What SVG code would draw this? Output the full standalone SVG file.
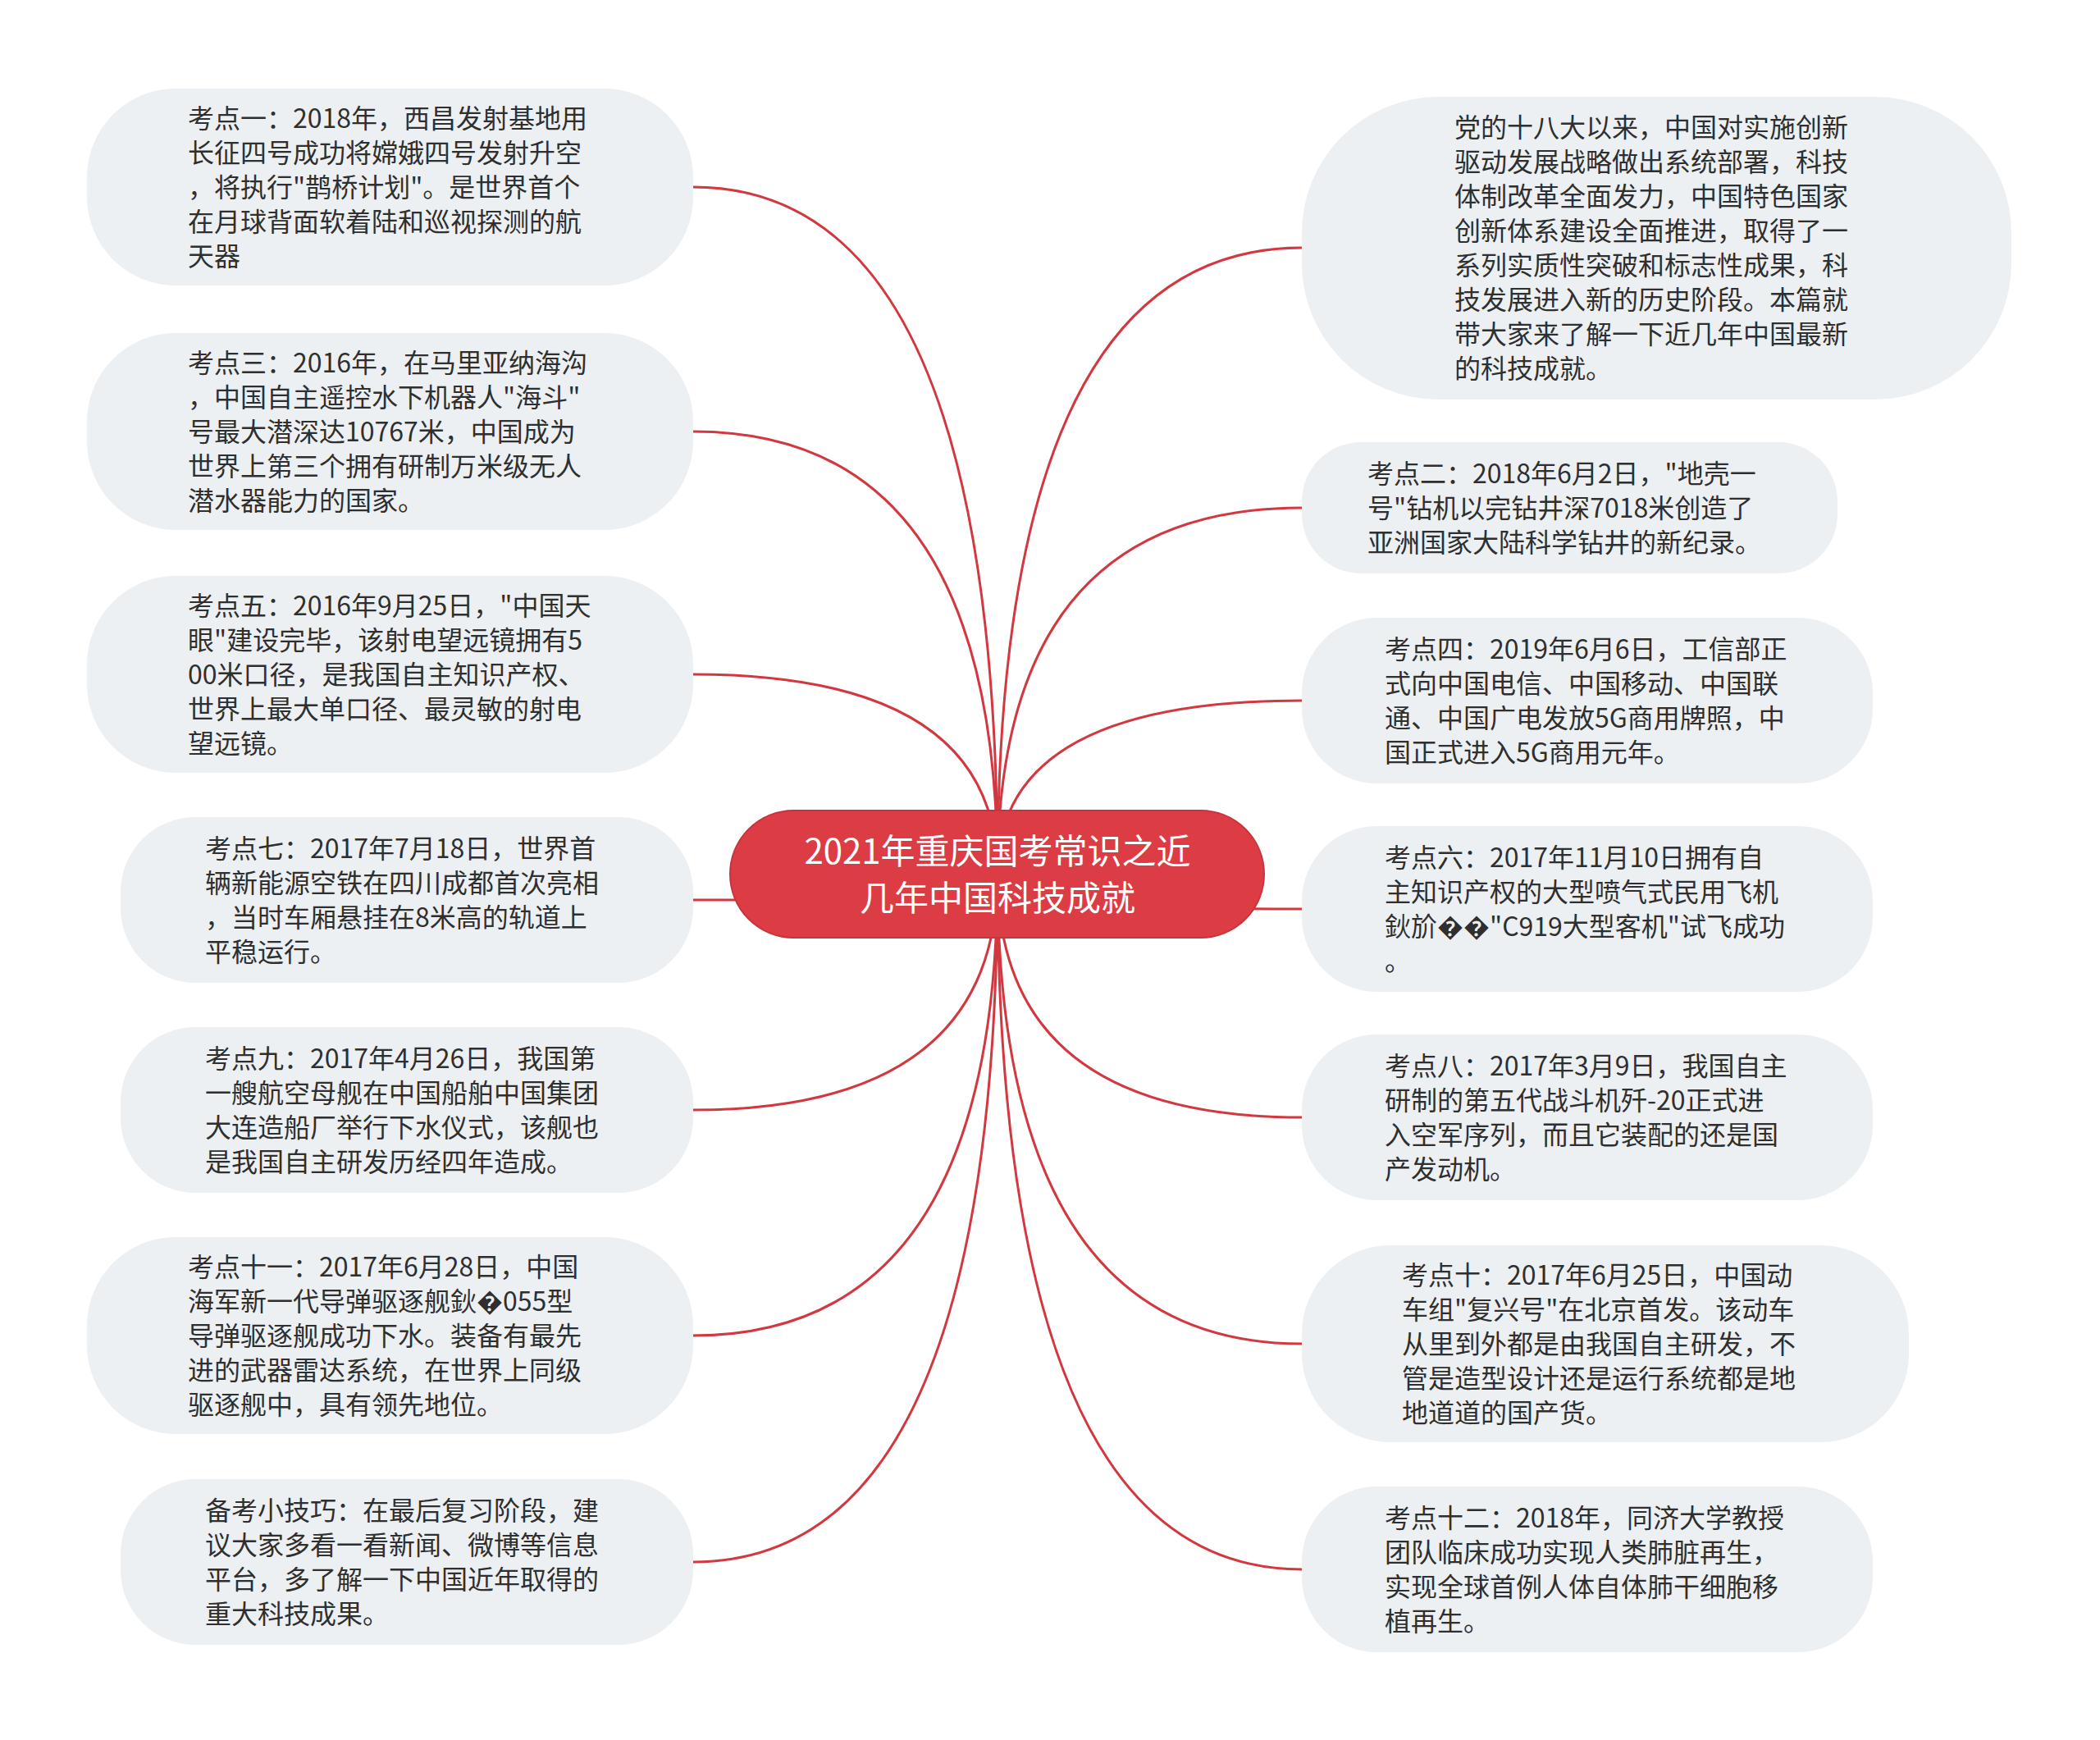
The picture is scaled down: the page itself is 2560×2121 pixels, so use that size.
<svg xmlns="http://www.w3.org/2000/svg" width="2560" height="2121" viewBox="0 0 2560 2121">
<style>
.bg{fill:#ffffff}
.node{fill:#edf0f3}
.t{font-family:"Noto Sans CJK SC","Noto Sans",sans-serif;font-size:32px;fill:#2f2f2f}
.root{fill:#dc3d45;stroke:#c9333b;stroke-width:2}
.rt{font-family:"Noto Sans CJK SC","Noto Sans",sans-serif;font-size:42px;fill:#ffffff;text-anchor:middle}
.c{fill:none;stroke:#d2383f;stroke-width:3}
</style>
<rect class="bg" x="0" y="0" width="2560" height="2121"/>
<g id="connectors">
<path class="c" d="M1216 1065 Q1216 228 845 228"/>
<path class="c" d="M1216 1065 Q1216 526 845 526"/>
<path class="c" d="M1216 1065 Q1216 822 845 822"/>
<path class="c" d="M1216 1065 Q1216 1097 845 1097"/>
<path class="c" d="M1216 1065 Q1216 1353 845 1353"/>
<path class="c" d="M1216 1065 Q1216 1628 845 1628"/>
<path class="c" d="M1216 1065 Q1216 1904 845 1904"/>
<path class="c" d="M1216 1065 Q1216 302 1587 302"/>
<path class="c" d="M1216 1065 Q1216 619 1587 619"/>
<path class="c" d="M1216 1065 Q1216 854 1587 854"/>
<path class="c" d="M1216 1065 Q1216 1108 1587 1108"/>
<path class="c" d="M1216 1065 Q1216 1362 1587 1362"/>
<path class="c" d="M1216 1065 Q1216 1638 1587 1638"/>
<path class="c" d="M1216 1065 Q1216 1913 1587 1913"/>
</g>
<g id="root">
<rect class="root" x="890" y="988" width="651" height="155" rx="77.5"/>
<text class="rt"><tspan x="1216" y="1053">2021年重庆国考常识之近</tspan><tspan x="1216" y="1110">几年中国科技成就</tspan></text>
</g>
<g id="n-l1">
<rect class="node" x="106" y="108" width="739" height="240" rx="108"/>
<text class="t"><tspan x="229" y="156">考点一：2018年，西昌发射基地用</tspan><tspan x="229" y="198">长征四号成功将嫦娥四号发射升空</tspan><tspan x="229" y="240">，将执行"鹊桥计划"。是世界首个</tspan><tspan x="229" y="282">在月球背面软着陆和巡视探测的航</tspan><tspan x="229" y="324">天器</tspan></text>
</g>
<g id="n-l3">
<rect class="node" x="106" y="406" width="739" height="240" rx="108"/>
<text class="t"><tspan x="229" y="454">考点三：2016年，在马里亚纳海沟</tspan><tspan x="229" y="496">，中国自主遥控水下机器人"海斗"</tspan><tspan x="229" y="538">号最大潜深达10767米，中国成为</tspan><tspan x="229" y="580">世界上第三个拥有研制万米级无人</tspan><tspan x="229" y="622">潜水器能力的国家。</tspan></text>
</g>
<g id="n-l5">
<rect class="node" x="106" y="702" width="739" height="240" rx="108"/>
<text class="t"><tspan x="229" y="750">考点五：2016年9月25日，"中国天</tspan><tspan x="229" y="792">眼"建设完毕，该射电望远镜拥有5</tspan><tspan x="229" y="834">00米口径，是我国自主知识产权、</tspan><tspan x="229" y="876">世界上最大单口径、最灵敏的射电</tspan><tspan x="229" y="918">望远镜。</tspan></text>
</g>
<g id="n-l7">
<rect class="node" x="147" y="996" width="698" height="202" rx="91"/>
<text class="t"><tspan x="250" y="1046">考点七：2017年7月18日，世界首</tspan><tspan x="250" y="1088">辆新能源空铁在四川成都首次亮相</tspan><tspan x="250" y="1130">，当时车厢悬挂在8米高的轨道上</tspan><tspan x="250" y="1172">平稳运行。</tspan></text>
</g>
<g id="n-l9">
<rect class="node" x="147" y="1252" width="698" height="202" rx="91"/>
<text class="t"><tspan x="250" y="1302">考点九：2017年4月26日，我国第</tspan><tspan x="250" y="1344">一艘航空母舰在中国船舶中国集团</tspan><tspan x="250" y="1386">大连造船厂举行下水仪式，该舰也</tspan><tspan x="250" y="1428">是我国自主研发历经四年造成。</tspan></text>
</g>
<g id="n-l11">
<rect class="node" x="106" y="1508" width="739" height="240" rx="108"/>
<text class="t"><tspan x="229" y="1556">考点十一：2017年6月28日，中国</tspan><tspan x="229" y="1598">海军新一代导弹驱逐舰鈥�055型</tspan><tspan x="229" y="1640">导弹驱逐舰成功下水。装备有最先</tspan><tspan x="229" y="1682">进的武器雷达系统，在世界上同级</tspan><tspan x="229" y="1724">驱逐舰中，具有领先地位。</tspan></text>
</g>
<g id="n-tip">
<rect class="node" x="147" y="1803" width="698" height="202" rx="91"/>
<text class="t"><tspan x="250" y="1853">备考小技巧：在最后复习阶段，建</tspan><tspan x="250" y="1895">议大家多看一看新闻、微博等信息</tspan><tspan x="250" y="1937">平台，多了解一下中国近年取得的</tspan><tspan x="250" y="1979">重大科技成果。</tspan></text>
</g>
<g id="n-r0">
<rect class="node" x="1587" y="118" width="865" height="369" rx="166"/>
<text class="t"><tspan x="1773" y="167">党的十八大以来，中国对实施创新</tspan><tspan x="1773" y="209">驱动发展战略做出系统部署，科技</tspan><tspan x="1773" y="251">体制改革全面发力，中国特色国家</tspan><tspan x="1773" y="293">创新体系建设全面推进，取得了一</tspan><tspan x="1773" y="335">系列实质性突破和标志性成果，科</tspan><tspan x="1773" y="377">技发展进入新的历史阶段。本篇就</tspan><tspan x="1773" y="419">带大家来了解一下近几年中国最新</tspan><tspan x="1773" y="461">的科技成就。</tspan></text>
</g>
<g id="n-r2">
<rect class="node" x="1587" y="539" width="653" height="160" rx="72"/>
<text class="t"><tspan x="1667" y="589">考点二：2018年6月2日，"地壳一</tspan><tspan x="1667" y="631">号"钻机以完钻井深7018米创造了</tspan><tspan x="1667" y="673">亚洲国家大陆科学钻井的新纪录。</tspan></text>
</g>
<g id="n-r4">
<rect class="node" x="1587" y="753" width="696" height="202" rx="91"/>
<text class="t"><tspan x="1688" y="803">考点四：2019年6月6日，工信部正</tspan><tspan x="1688" y="845">式向中国电信、中国移动、中国联</tspan><tspan x="1688" y="887">通、中国广电发放5G商用牌照，中</tspan><tspan x="1688" y="929">国正式进入5G商用元年。</tspan></text>
</g>
<g id="n-r6">
<rect class="node" x="1587" y="1007" width="696" height="202" rx="91"/>
<text class="t"><tspan x="1688" y="1057">考点六：2017年11月10日拥有自</tspan><tspan x="1688" y="1099">主知识产权的大型喷气式民用飞机</tspan><tspan x="1688" y="1141">鈥斺��"C919大型客机"试飞成功</tspan><tspan x="1688" y="1183">。</tspan></text>
</g>
<g id="n-r8">
<rect class="node" x="1587" y="1261" width="696" height="202" rx="91"/>
<text class="t"><tspan x="1688" y="1311">考点八：2017年3月9日，我国自主</tspan><tspan x="1688" y="1353">研制的第五代战斗机歼-20正式进</tspan><tspan x="1688" y="1395">入空军序列，而且它装配的还是国</tspan><tspan x="1688" y="1437">产发动机。</tspan></text>
</g>
<g id="n-r10">
<rect class="node" x="1587" y="1518" width="740" height="240" rx="108"/>
<text class="t"><tspan x="1709" y="1566">考点十：2017年6月25日，中国动</tspan><tspan x="1709" y="1608">车组"复兴号"在北京首发。该动车</tspan><tspan x="1709" y="1650">从里到外都是由我国自主研发，不</tspan><tspan x="1709" y="1692">管是造型设计还是运行系统都是地</tspan><tspan x="1709" y="1734">地道道的国产货。</tspan></text>
</g>
<g id="n-r12">
<rect class="node" x="1587" y="1812" width="696" height="202" rx="91"/>
<text class="t"><tspan x="1688" y="1862">考点十二：2018年，同济大学教授</tspan><tspan x="1688" y="1904">团队临床成功实现人类肺脏再生，</tspan><tspan x="1688" y="1946">实现全球首例人体自体肺干细胞移</tspan><tspan x="1688" y="1988">植再生。</tspan></text>
</g>
</svg>
